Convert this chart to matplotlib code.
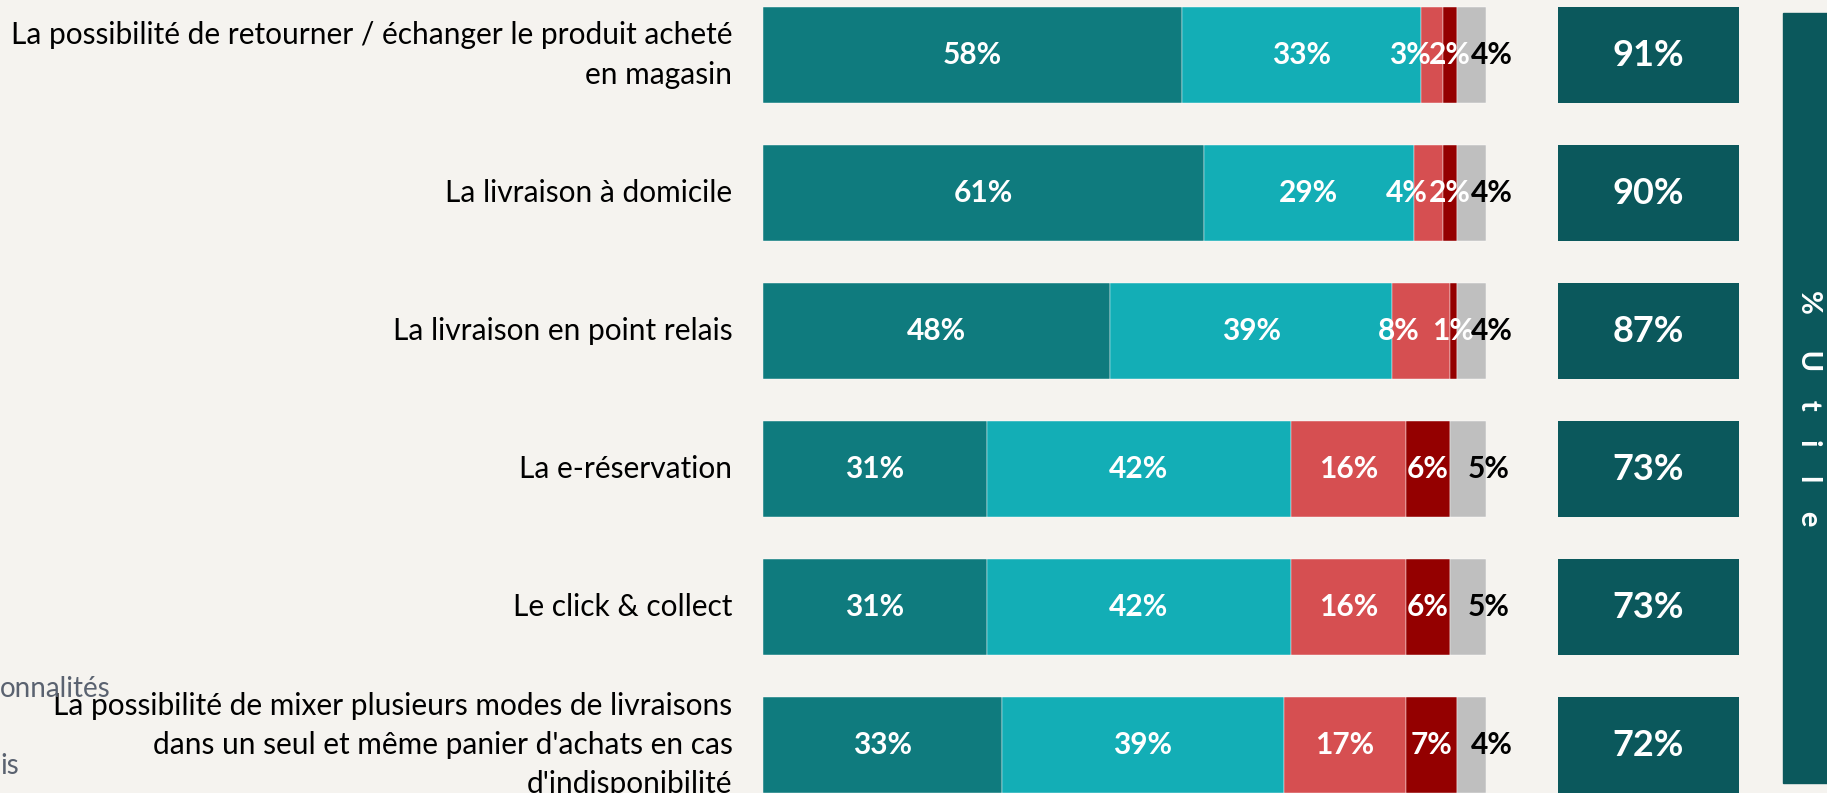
import matplotlib.pyplot as plt
from matplotlib.patches import Rectangle

# libellés des items (de haut en bas)
items = [
    "La possibilité de retourner / échanger le produit acheté\nen magasin",
    "La livraison à domicile",
    "La livraison en point relais",
    "La e-réservation",
    "Le click & collect",
    "La possibilité de mixer plusieurs modes de livraisons\ndans un seul et même panier d'achats en cas\nd'indisponibilité",
]
tres_utile = [58, 61, 48, 31, 31, 33]
plutot_utile = [33, 29, 39, 42, 42, 39]
plutot_pas_utile = [3, 4, 8, 16, 16, 17]
pas_du_tout_utile = [2, 2, 1, 6, 6, 7]
nsp = [4, 4, 4, 5, 5, 4]
total_utile = [91, 90, 87, 73, 73, 72]

bg = "#F5F3EF"
colors = ["#0F7B7E", "#13AEB6", "#D64F51", "#940000", "#BFBFBF"]
box_color = "#0B585C"

W, H = 1827, 793
fig = plt.figure(figsize=(W / 100, H / 100), dpi=100)
fig.patch.set_facecolor(bg)

label_font = ["Lato", "DejaVu Sans"]
num_font = ["Lato", "DejaVu Sans"]

# rows: centre of first bar at 55 px from top, pitch 138 px
ylo = (0 - 55) / 138
yhi = (H - 55) / 138

ax = fig.add_axes([763 / W, 0, (1486 - 763) / W, 1])
ax.set_facecolor(bg)
ax.set_xlim(0, 100)
ax.set_ylim(yhi, ylo)

y = list(range(len(items)))
series = [tres_utile, plutot_utile, plutot_pas_utile, pas_du_tout_utile, nsp]
left = [0] * len(items)
for k, vals in enumerate(series):
    ax.barh(y, vals, left=left, height=0.69, color=colors[k],
            edgecolor="#FFFFFF", linewidth=0.3)
    for i, v in enumerate(vals):
        cx = left[i] + v / 2
        txt_color = "white"
        if k == 4:
            cx += 2.8
            txt_color = "black"
        elif k == 2 and v < 10:
            cx -= 3.0
        ax.text(cx, i, "%d%%" % v, ha="center", va="center", color=txt_color,
                fontsize=21.5, fontweight="bold", family=num_font)
    left = [a + b for a, b in zip(left, vals)]

ax.set_yticks(y)
ax.set_yticklabels(items, fontsize=21.5, family=label_font, ha="right",
                   va="center", multialignment="right", linespacing=1.5)
ax.tick_params(axis="y", length=0, pad=22)
ax.set_xticks([])
for s in ax.spines.values():
    s.set_visible(False)

# total "utile" boxes
ax2 = fig.add_axes([1558 / W, 0, (1739 - 1558) / W, 1])
ax2.set_facecolor(bg)
ax2.set_xlim(0, 1)
ax2.set_ylim(yhi, ylo)
ax2.barh(y, [1] * len(y), height=0.69, color=box_color)
for i, v in enumerate(total_utile):
    ax2.text(0.5, i, "%d%%" % v, ha="center", va="center", color="white",
             fontsize=26, fontweight="bold", family=num_font)
ax2.axis("off")

# bandeau vertical
fig.patches.append(Rectangle((1783 / W, 1 - 783 / H), 60 / W, 770 / H,
                             transform=fig.transFigure, color=box_color))
fig.text(1809 / W, 1 - 408 / H, "%     U    t    i    l    e", rotation=-90,
         ha="center", va="center", color="white", fontsize=21,
         fontweight="bold", family=num_font)

# textes coupés à gauche
fig.text(0.0, 1 - 689 / H, "onnalités", ha="left", va="center",
         color="#5A6270", fontsize=20, family=label_font)
fig.text(0.0, 1 - 766 / H, "is", ha="left", va="center",
         color="#5A6270", fontsize=20, family=label_font)

fig.savefig("out.png", dpi=100, facecolor=bg)
